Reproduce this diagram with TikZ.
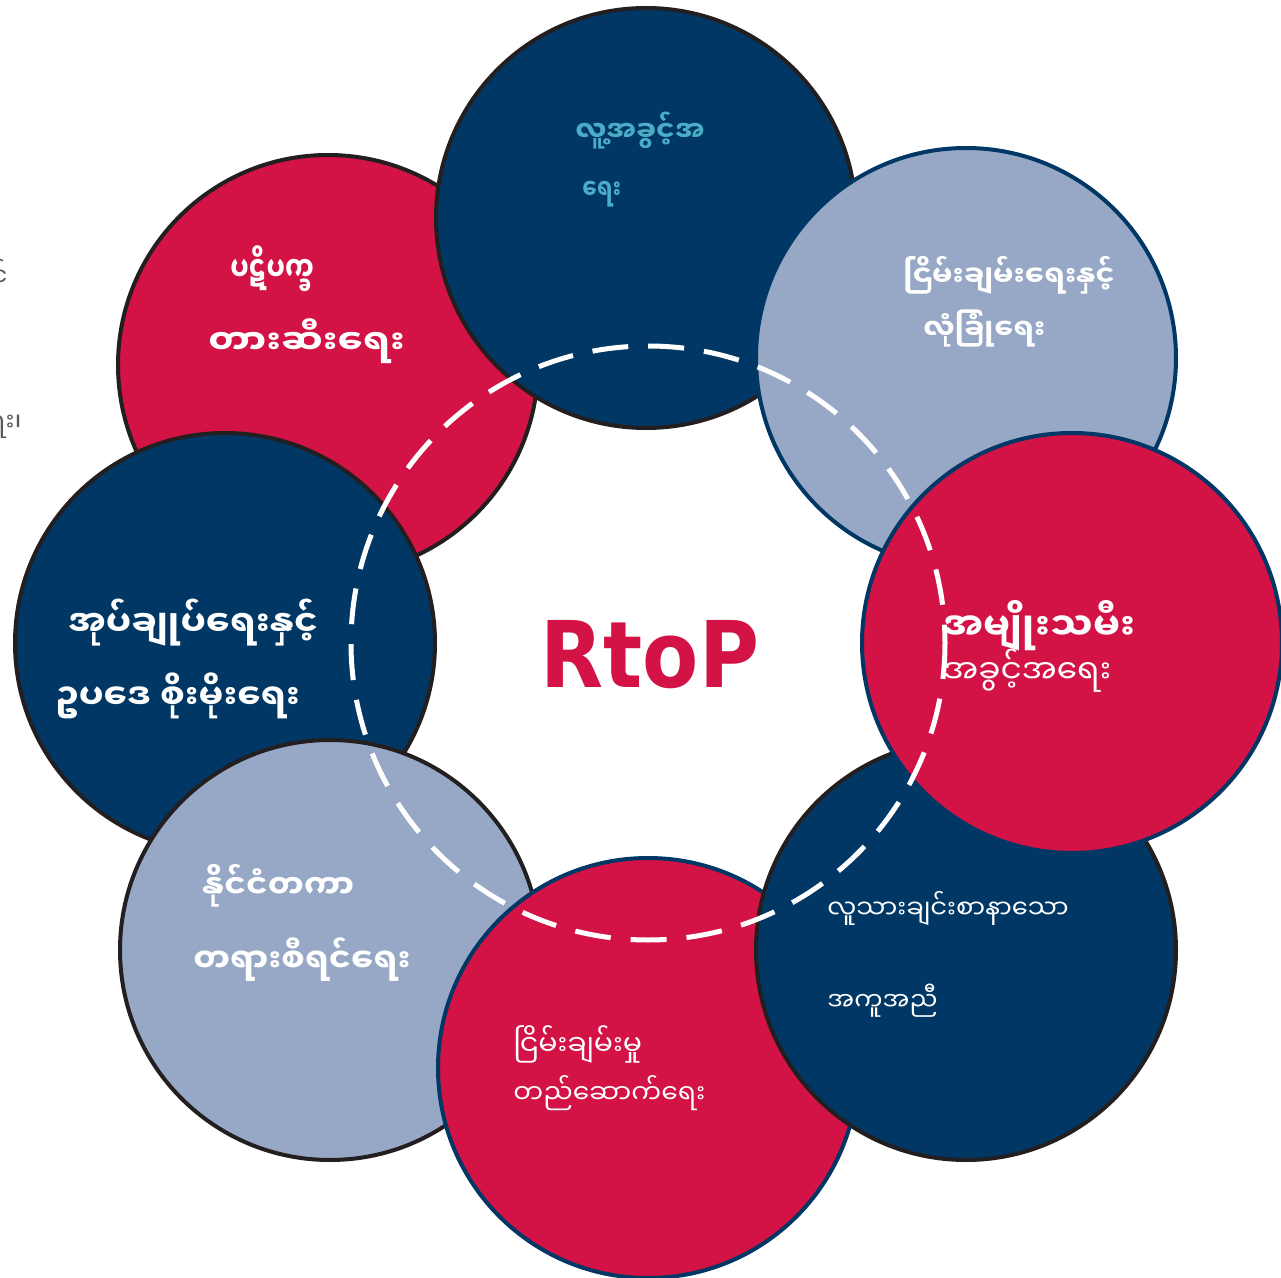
\documentclass[tikz,border=0pt]{standalone}
\usepackage{fontspec}
\usepackage{graphicx}
\newfontfamily\mya[Script=Myanmar]{Noto Sans Myanmar UI}
\newfontfamily\rtopfont{DejaVu Sans}
\definecolor{navy}{HTML}{003764}
\definecolor{rtred}{HTML}{D31245}
\definecolor{steel}{HTML}{97A8C6}
\definecolor{edgedark}{HTML}{231F20}
\definecolor{cyantext}{HTML}{4BACC6}
\definecolor{graytext}{HTML}{595959}
\newcommand{\bsz}[1]{\mya\bfseries\fontsize{#1}{#1}\selectfont}
\newcommand{\rsz}[1]{\mya\fontsize{#1}{#1}\selectfont}
\newcommand{\sxx}[2]{\scalebox{#1}[1]{#2}}
\tikzset{
  disc/.style={circle, inner sep=0pt, minimum size=210pt, line width=2pt},
  lab/.style={anchor=base west, inner sep=0pt, text=white},
  frag/.style={anchor=base east, inner sep=0pt, text=graytext, font=\rsz{13}},
}
\begin{document}
\begin{tikzpicture}[x=0.5pt,y=-0.5pt]
\useasboundingbox (0,0) rectangle (1281,1278);
\clip (0,0) rectangle (1281,1278);
\fill[white] (0,0) rectangle (1281,1278);
\coordinate (ctr) at (648,643);
% left-edge clipped text
\node[frag] (f1) at (8,287) {အပြင်};
\node[frag] (f2) at (22,432) {ရေး၊};
% circles
\node[disc, fill=rtred, draw=edgedark] (ul) at (328,365) {};
\node[disc, fill=navy, draw=edgedark] (t) at (646,218) {};
\node[disc, fill=steel, draw=navy] (ur) at (966,358) {};
\node[disc, fill=navy, draw=edgedark] (l) at (225,643) {};
\node[disc, fill=steel, draw=edgedark] (ll) at (330,950) {};
\node[disc, fill=rtred, draw=navy] (b) at (648,1068) {};
\node[disc, fill=navy, draw=edgedark] (lr) at (966,950) {};
\node[disc, fill=rtred, draw=navy] (r) at (1072,643) {};
% texts
\node[lab, text=cyantext, font=\bsz{14}] (t1) at (575,142) {လူ့အခွင့်အ};
\node[lab, text=cyantext, font=\bsz{14}] (t2) at (582,200) {\sxx{0.77}{ရေး}};
\node[lab, font=\bsz{14.3}] (ur1) at (903,287) {ငြိမ်းချမ်းရေးနှင့်};
\node[lab, font=\bsz{14.1}] (ur2) at (923,340) {လုံခြုံရေး};
\node[lab, font=\bsz{17}] (ul1) at (230,282) {\sxx{0.76}{ပဋိပက္ခ}};
\node[lab, font=\bsz{17}] (ul2) at (208,355) {\sxx{1.1}{တားဆီးရေး}};
\node[lab, font=\bsz{17.8}] (l1) at (68,637) {အုပ်ချုပ်ရေးနှင့်};
\node[lab, font=\bsz{17.4}] (l2) at (55,710) {ဥပဒေ စိုးမိုးရေး};
\node[lab, font=\bsz{19}] (r1) at (943,640) {အမျိုးသမီး};
\node[lab, font=\rsz{16.4}] (r2) at (943,683) {အခွင့်အရေး};
\node[lab, font=\bsz{16.2}] (ll1) at (202,898) {နိုင်ငံတကာ};
\node[lab, font=\bsz{16.5}] (ll2) at (193,972) {တရားစီရင်ရေး};
\node[lab, font=\rsz{14.2}] (b1) at (513,1055) {ငြိမ်းချမ်းမှု};
\node[lab, font=\rsz{13.3}] (b2) at (513,1103) {တည်ဆောက်ရေး};
\node[lab, font=\rsz{12.9}] (lr1) at (827,918) {လူသားချင်းစာနာသော};
\node[lab, font=\rsz{12.6}] (lr2) at (827,1010) {အကူအညီ};
% dashed ring
\draw[white, line width=2.5pt, dash pattern=on 18pt off 10pt] (ctr) circle[radius=297];
% centre label
\node[anchor=base, inner sep=0pt, text=rtred, font=\rtopfont\bfseries\fontsize{46}{46}\selectfont] (rtop) at (650,688) {\sxx{0.89}{RtoP}};
\end{tikzpicture}
\end{document}
